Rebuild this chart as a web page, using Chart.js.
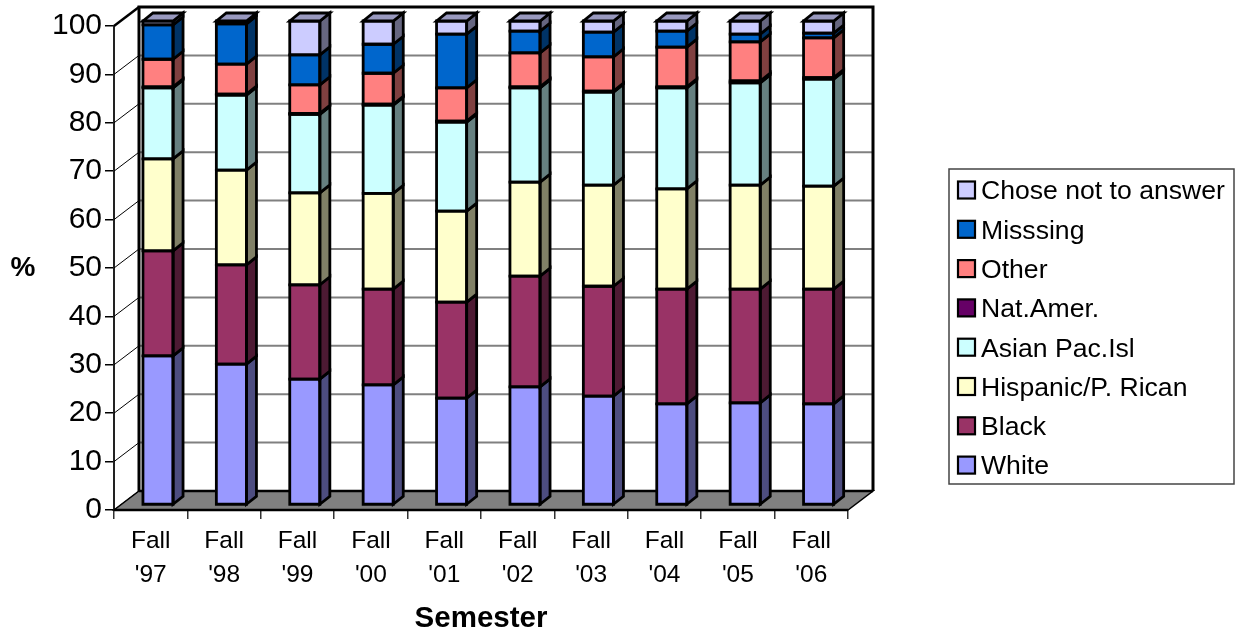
<!DOCTYPE html>
<html><head><meta charset="utf-8">
<style>html,body{margin:0;padding:0;background:#fff}canvas{display:block}</style>
<script src="https://cdn.jsdelivr.net/npm/chart.js@4"></script>
</head><body>
<div style="width:1239px;height:631px;position:relative"><canvas id="c" width="1239" height="631"></canvas></div>
<script>
const categories = [["Fall","'97"],["Fall","'98"],["Fall","'99"],["Fall","'00"],["Fall","'01"],["Fall","'02"],["Fall","'03"],["Fall","'04"],["Fall","'05"],["Fall","'06"]];
const white    = [30.8,29.1,26.0,24.8,22.1,24.4,22.5,20.9,21.1,20.9];
const black    = [21.7,20.5,19.5,19.8,19.8,22.9,22.7,23.7,23.5,23.7];
const hispanic = [19.0,19.6,19.0,19.8,18.8,19.4,20.9,20.7,21.5,21.3];
const asian    = [14.7,15.5,16.2,18.2,18.4,19.5,19.2,20.9,21.1,22.1];
const natAmer  = [0.2,0.2,0.2,0.2,0.2,0.2,0.2,0.2,0.4,0.3];
const other    = [5.7,6.2,5.9,6.4,6.9,7.0,7.1,8.2,8.1,8.2];
const missing  = [7.1,8.3,6.2,6.0,11.1,4.5,5.1,3.3,1.6,1.0];
const noAnswer = [0.8,0.6,7.0,4.8,2.7,2.1,2.3,2.1,2.7,2.5];
const seriesNames = ["White","Black","Hispanic/P. Rican","Asian Pac.Isl","Nat.Amer.","Other","Misssing","Chose not to answer"];
const seriesValues = [white,black,hispanic,asian,natAmer,other,missing,noAnswer];
const seriesColors = ["#9999FF","#993366","#FFFFCC","#CCFFFF","#660066","#FF8080","#0066CC","#CCCCFF"];
const yTicks = [0,10,20,30,40,50,60,70,80,90,100];
const FONT = '"Liberation Sans", Arial, sans-serif';

const wallDX = 25, wallDY = -19;   // floor/wall depth
const barDX = 7.3, barDY = -5;     // bars sit inside the depth
const sideDX = 10, sideDY = -8;    // bar's own depth

function shade(hex, f){
  const n = parseInt(hex.slice(1),16);
  const c = s => Math.round(((n>>s)&255)*f);
  return `rgb(${c(16)},${c(8)},${c(0)})`;
}
function poly(ctx, pts, fill, stroke, lw){
  ctx.beginPath();
  pts.forEach((p,i)=> i?ctx.lineTo(p[0],p[1]):ctx.moveTo(p[0],p[1]));
  ctx.closePath();
  if(fill){ctx.fillStyle=fill;ctx.fill();}
  if(stroke){ctx.strokeStyle=stroke;ctx.lineWidth=lw;ctx.lineJoin='miter';ctx.stroke();}
}

const chart3d = {
  id:'chart3d',
  beforeDatasetsDraw(chart){
    const ctx = chart.ctx, {left,right} = chart.chartArea, y = chart.scales.y;
    const y0 = y.getPixelForValue(0), y100 = y.getPixelForValue(100);
    const bl = left+wallDX, br = right+wallDX;
    ctx.save();
    yTicks.forEach(t=>{
      const py = y.getPixelForValue(t);
      if(t>0 && t<100){
        ctx.strokeStyle='#808080'; ctx.lineWidth=2;
        ctx.beginPath(); ctx.moveTo(bl,py+wallDY); ctx.lineTo(br,py+wallDY); ctx.stroke();
      }
      ctx.strokeStyle='#000'; ctx.lineWidth=t===100?2.5:1;
      ctx.beginPath(); ctx.moveTo(left,py); ctx.lineTo(bl,py+wallDY); ctx.stroke();
    });
    ctx.strokeStyle='#000'; ctx.lineWidth=3;
    ctx.beginPath();
    ctx.moveTo(bl,y0+wallDY); ctx.lineTo(bl,y100+wallDY); ctx.lineTo(br,y100+wallDY); ctx.lineTo(br,y0+wallDY);
    ctx.stroke();
    poly(ctx,[[left,y0],[right,y0],[br,y0+wallDY],[bl,y0+wallDY]],'#808080','#000',1.5);
    ctx.strokeStyle='#000'; ctx.lineWidth=2.5;
    ctx.beginPath(); ctx.moveTo(bl,y0+wallDY); ctx.lineTo(br,y0+wallDY); ctx.stroke();
    ctx.beginPath(); ctx.moveTo(left,y0); ctx.lineTo(right,y0); ctx.stroke();
    ctx.restore();
    ctx.save();
    ctx.translate(barDX,barDY);
  },
  afterDatasetsDraw(chart){
    const ctx = chart.ctx;
    const n = chart.data.datasets.length;
    for(let d=0;d<n;d++){
      const col = chart.data.datasets[d].backgroundColor;
      chart.getDatasetMeta(d).data.forEach(el=>{
        const l=el.x-el.width/2, r=el.x+el.width/2, t=el.y, b=el.base;
        poly(ctx,[[r,b],[r+sideDX,b+sideDY],[r+sideDX,t+sideDY],[r,t]],shade(col,0.5),'#000',2.8);
        poly(ctx,[[l,b],[r,b],[r,t],[l,t]],null,'#000',2.8);
        if(d===n-1){
          poly(ctx,[[l,t],[r,t],[r+sideDX,t+sideDY],[l+sideDX,t+sideDY]],shade(col,0.75),'#000',2.8);
        }
      });
    }
    ctx.restore();
  },
  afterDraw(chart){
    const ctx = chart.ctx;
    ctx.save();
    ctx.fillStyle='#000'; ctx.textAlign='center'; ctx.textBaseline='middle';
    ctx.font='bold 28px '+FONT;
    ctx.fillText('%',23,268);
    ctx.strokeStyle='#444'; ctx.lineWidth=1.5;
    ctx.strokeRect(949,169,285,315);
    ctx.textAlign='left'; ctx.font='26.6px '+FONT;
    for(let i=seriesNames.length-1,row=0;i>=0;i--,row++){
      const cy = 190+row*39.3;
      ctx.fillStyle=seriesColors[i];
      ctx.fillRect(958,cy-8.5,17,17);
      ctx.strokeStyle='#000'; ctx.lineWidth=2.2;
      ctx.strokeRect(958,cy-8.5,17,17);
      ctx.fillStyle='#000';
      ctx.fillText(seriesNames[i],981,cy+2);
    }
    ctx.restore();
  }
};

new Chart(document.getElementById('c'),{
  type:'bar',
  data:{
    labels:categories,
    datasets:seriesNames.map((name,i)=>({
      label:name,data:seriesValues[i],backgroundColor:seriesColors[i],
      borderWidth:0,clip:false,barPercentage:0.41,categoryPercentage:1
    }))
  },
  plugins:[chart3d],
  options:{
    responsive:false,animation:false,devicePixelRatio:1,
    layout:{padding:{left:0,right:391,top:26,bottom:0}},
    plugins:{legend:{display:false},tooltip:{enabled:false}},
    scales:{
      x:{
        stacked:true,
        afterFit:s=>{s.height=121;},
        grid:{drawOnChartArea:false,drawTicks:true,tickLength:9,color:'#333',lineWidth:1.5},
        border:{display:false},
        ticks:{color:'#000',maxRotation:0,autoSkip:false,padding:5,font:{family:FONT,size:24.5,lineHeight:1.4}},
        title:{display:true,text:'Semester',color:'#000',padding:0,font:{family:FONT,size:29.5,weight:'bold',lineHeight:0.8}}
      },
      y:{
        stacked:true,min:0,max:100,
        afterFit:s=>{s.width=114;},
        grid:{drawOnChartArea:false,drawTicks:true,tickLength:9,color:'#000',lineWidth:1.5},
        border:{display:true,color:'#222',width:2},
        ticks:{color:'#000',stepSize:10,padding:3,font:{family:FONT,size:30}}
      }
    }
  }
});
</script>
</body></html>
